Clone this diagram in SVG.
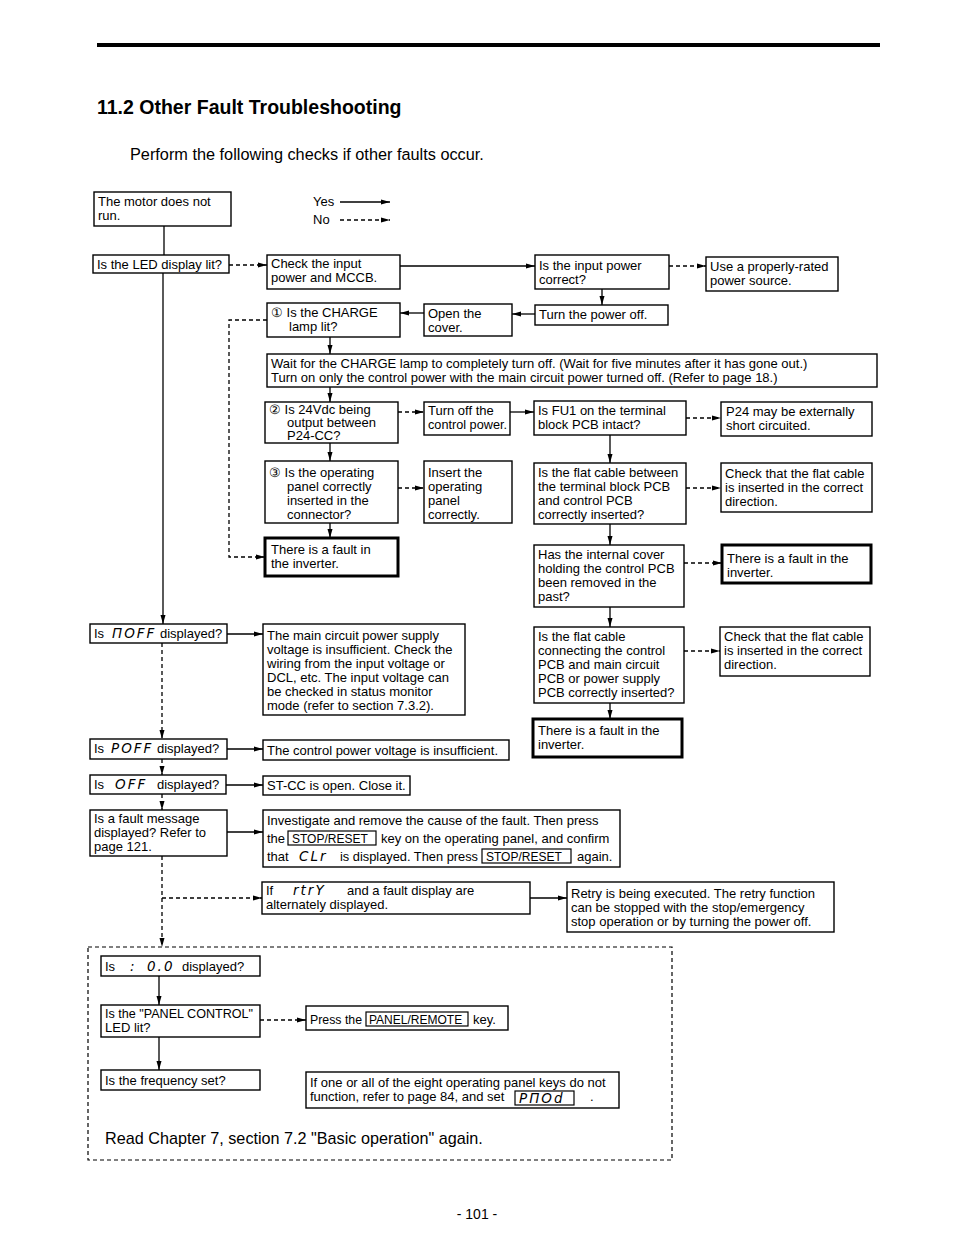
<svg xmlns="http://www.w3.org/2000/svg" width="954" height="1235" viewBox="0 0 954 1235">
<style>
.b{fill:#fff;stroke:#000;stroke-width:1.4}
.k{fill:#fff;stroke:#000;stroke-width:3}
.t{font-family:"Liberation Sans",Arial,sans-serif;font-size:13px;fill:#000}
.s{font-family:"DejaVu Sans",sans-serif;font-style:italic;font-size:13.5px;letter-spacing:2px}
.c{fill:none;stroke:#000;stroke-width:1.3}
.d{fill:none;stroke:#000;stroke-width:1.3;stroke-dasharray:4 3}
.key{fill:none;stroke:#000;stroke-width:1.2}
.kt{font-family:"Liberation Sans",Arial,sans-serif;font-size:12px;fill:#000}
</style>
<defs>
<marker id="a" markerWidth="9" markerHeight="6" refX="9" refY="3" orient="auto" markerUnits="userSpaceOnUse">
<path d="M0,0.5 L9,3 L0,5.5 Z" fill="#000"/>
</marker>
</defs>
<rect width="954" height="1235" fill="#fff"/>
<line x1="97" y1="45" x2="880" y2="45" stroke="#000" stroke-width="4"/>
<text x="97" y="114" font-family="Liberation Sans,Arial,sans-serif" font-weight="bold" font-size="19.5">11.2  Other Fault Troubleshooting</text>
<text x="130" y="160" font-family="Liberation Sans,Arial,sans-serif" font-size="16.3">Perform the following checks if other faults occur.</text>

<g id="legend">
<text class="t" x="313" y="206">Yes</text>
<text class="t" x="313" y="224">No</text>
</g>

<g id="connectors">
<line class="c" x1="340" y1="202" x2="390" y2="202" marker-end="url(#a)"/>
<line class="d" x1="340" y1="220" x2="390" y2="220" marker-end="url(#a)"/>
<line class="c" x1="164" y1="226" x2="164" y2="255"/>
<line class="d" x1="229" y1="265" x2="267" y2="265" marker-end="url(#a)"/>
<line class="c" x1="400" y1="266" x2="535" y2="266" marker-end="url(#a)"/>
<line class="d" x1="669" y1="266" x2="706" y2="266" marker-end="url(#a)"/>
<line class="c" x1="602" y1="289" x2="602" y2="305" marker-end="url(#a)"/>
<line class="c" x1="535" y1="314" x2="512" y2="314" marker-end="url(#a)"/>
<line class="c" x1="424" y1="313" x2="400" y2="313" marker-end="url(#a)"/>
<path class="d" d="M267,320 H229 V557 H265" marker-end="url(#a)"/>
<line class="c" x1="330" y1="337" x2="330" y2="354" marker-end="url(#a)"/>
<line class="c" x1="330" y1="387" x2="330" y2="402" marker-end="url(#a)"/>
<line class="d" x1="398" y1="412" x2="424" y2="412" marker-end="url(#a)"/>
<line class="c" x1="510" y1="412" x2="534" y2="412" marker-end="url(#a)"/>
<line class="d" x1="686" y1="418" x2="721" y2="418" marker-end="url(#a)"/>
<line class="c" x1="330" y1="443" x2="330" y2="461" marker-end="url(#a)"/>
<line class="d" x1="398" y1="488" x2="424" y2="488" marker-end="url(#a)"/>
<line class="c" x1="330" y1="523" x2="330" y2="538" marker-end="url(#a)"/>
<line class="c" x1="610" y1="435" x2="610" y2="463" marker-end="url(#a)"/>
<line class="d" x1="686" y1="488" x2="721" y2="488" marker-end="url(#a)"/>
<line class="c" x1="610" y1="524" x2="610" y2="545" marker-end="url(#a)"/>
<line class="d" x1="684" y1="563" x2="722" y2="563" marker-end="url(#a)"/>
<line class="c" x1="610" y1="607" x2="610" y2="627" marker-end="url(#a)"/>
<line class="d" x1="684" y1="651" x2="720" y2="651" marker-end="url(#a)"/>
<line class="c" x1="610" y1="703" x2="610" y2="719" marker-end="url(#a)"/>
<line class="c" x1="163" y1="273" x2="163" y2="624" marker-end="url(#a)"/>
<line class="c" x1="227" y1="634" x2="263" y2="634" marker-end="url(#a)"/>
<line class="d" x1="162" y1="643" x2="162" y2="739" marker-end="url(#a)"/>
<line class="c" x1="227" y1="749" x2="263" y2="749" marker-end="url(#a)"/>
<line class="d" x1="162" y1="759" x2="162" y2="775" marker-end="url(#a)"/>
<line class="c" x1="226" y1="785" x2="263" y2="785" marker-end="url(#a)"/>
<line class="d" x1="162" y1="794" x2="162" y2="810" marker-end="url(#a)"/>
<line class="c" x1="227" y1="832" x2="263" y2="832" marker-end="url(#a)"/>
<line class="d" x1="162" y1="856" x2="162" y2="947" marker-end="url(#a)"/>
<line class="d" x1="162" y1="898" x2="262" y2="898" marker-end="url(#a)"/>
<line class="c" x1="530" y1="898" x2="567" y2="898" marker-end="url(#a)"/>
<line class="c" x1="159" y1="976" x2="159" y2="1005" marker-end="url(#a)"/>
<line class="d" x1="260" y1="1020" x2="306" y2="1020" marker-end="url(#a)"/>
<line class="c" x1="159" y1="1037" x2="159" y2="1070" marker-end="url(#a)"/>
</g>

<g id="motor"><rect class="b" x="94" y="192" width="137" height="34"/><text class="t" x="98" y="206">The motor does not</text><text class="t" x="98" y="220">run.</text></g>
<g id="led"><rect class="b" x="93" y="255" width="136" height="18"/><text class="t" x="97" y="269">Is the LED display lit?</text></g>
<g id="checkinput"><rect class="b" x="267" y="255" width="133" height="34"/><text class="t" x="271" y="268">Check the input</text><text class="t" x="271" y="282">power and MCCB.</text></g>
<g id="inputcorrect"><rect class="b" x="535" y="255" width="134" height="34"/><text class="t" x="539" y="270">Is the input power</text><text class="t" x="539" y="284">correct?</text></g>
<g id="userated"><rect class="b" x="706" y="257" width="132" height="34"/><text class="t" x="710" y="271">Use a properly-rated</text><text class="t" x="710" y="285">power source.</text></g>
<g id="poweroff"><rect class="b" x="535" y="305" width="133" height="20"/><text class="t" x="539" y="319">Turn the power off.</text></g>
<g id="opencover"><rect class="b" x="424" y="304" width="88" height="32"/><text class="t" x="428" y="318">Open the</text><text class="t" x="428" y="332">cover.</text></g>
<g id="charge"><rect class="b" x="267" y="303" width="133" height="34"/><text class="t" x="271" y="317">① Is the CHARGE</text><text class="t" x="289" y="331">lamp lit?</text></g>
<g id="wait"><rect class="b" x="267" y="354" width="610" height="33"/><text class="t" x="271" y="368">Wait for the CHARGE lamp to completely turn off. (Wait for five minutes after it has gone out.)</text><text class="t" x="271" y="382">Turn on only the control power with the main circuit power turned off. (Refer to page 18.)</text></g>
<g id="v24"><rect class="b" x="265" y="402" width="133" height="41"/><text class="t" x="269" y="414">② Is 24Vdc being</text><text class="t" x="287" y="427">output between</text><text class="t" x="287" y="440">P24-CC?</text></g>
<g id="turnoffctrl"><rect class="b" x="424" y="402" width="86" height="33"/><text class="t" x="428" y="415">Turn off the</text><text class="t" x="428" y="429" textLength="79" lengthAdjust="spacingAndGlyphs">control power.</text></g>
<g id="fu1"><rect class="b" x="534" y="401" width="152" height="34"/><text class="t" x="538" y="415">Is FU1 on the terminal</text><text class="t" x="538" y="429">block PCB intact?</text></g>
<g id="p24"><rect class="b" x="721" y="402" width="151" height="34"/><text class="t" x="726" y="416">P24 may be externally</text><text class="t" x="726" y="430">short circuited.</text></g>
<g id="panel"><rect class="b" x="265" y="461" width="133" height="62"/><text class="t" x="269" y="477">③ Is the operating</text><text class="t" x="287" y="491">panel correctly</text><text class="t" x="287" y="505">inserted in the</text><text class="t" x="287" y="519">connector?</text></g>
<g id="insert"><rect class="b" x="424" y="461" width="88" height="62"/><text class="t" x="428" y="477">Insert the</text><text class="t" x="428" y="491">operating</text><text class="t" x="428" y="505">panel</text><text class="t" x="428" y="519">correctly.</text></g>
<g id="fault1"><rect class="k" x="265" y="538" width="133" height="38"/><text class="t" x="271" y="554">There is a fault in</text><text class="t" x="271" y="568">the inverter.</text></g>
<g id="flat1"><rect class="b" x="534" y="463" width="152" height="61"/><text class="t" x="538" y="477">Is the flat cable between</text><text class="t" x="538" y="491">the terminal block PCB</text><text class="t" x="538" y="505">and control PCB</text><text class="t" x="538" y="519">correctly inserted?</text></g>
<g id="checkflat1"><rect class="b" x="721" y="463" width="151" height="49"/><text class="t" x="725" y="478">Check that the flat cable</text><text class="t" x="725" y="492">is inserted in the correct</text><text class="t" x="725" y="506">direction.</text></g>
<g id="cover"><rect class="b" x="534" y="545" width="150" height="62"/><text class="t" x="538" y="559">Has the internal cover</text><text class="t" x="538" y="573">holding the control PCB</text><text class="t" x="538" y="587">been removed in the</text><text class="t" x="538" y="601">past?</text></g>
<g id="fault2"><rect class="k" x="722" y="545" width="149" height="38"/><text class="t" x="727" y="563">There is a fault in the</text><text class="t" x="727" y="577">inverter.</text></g>
<g id="flat2"><rect class="b" x="534" y="627" width="150" height="76"/><text class="t" x="538" y="641">Is the flat cable</text><text class="t" x="538" y="655">connecting the control</text><text class="t" x="538" y="669">PCB and main circuit</text><text class="t" x="538" y="683">PCB or power supply</text><text class="t" x="538" y="697">PCB correctly inserted?</text></g>
<g id="checkflat2"><rect class="b" x="720" y="627" width="150" height="49"/><text class="t" x="724" y="641">Check that the flat cable</text><text class="t" x="724" y="655">is inserted in the correct</text><text class="t" x="724" y="669">direction.</text></g>
<g id="fault3"><rect class="k" x="533" y="719" width="149" height="38"/><text class="t" x="538" y="735">There is a fault in the</text><text class="t" x="538" y="749">inverter.</text></g>

<g id="moff"><rect class="b" x="90" y="624" width="137" height="19"/><text class="t" x="94" y="638">Is</text><text class="t s" x="112" y="638">ΠOFF</text><text class="t" x="160" y="638">displayed?</text></g>
<g id="maincircuit"><rect class="b" x="263" y="624" width="202" height="91"/><text class="t" x="267" y="640">The main circuit power supply</text><text class="t" x="267" y="654">voltage is insufficient. Check the</text><text class="t" x="267" y="668">wiring from the input voltage or</text><text class="t" x="267" y="682">DCL, etc. The input voltage can</text><text class="t" x="267" y="696">be checked in status monitor</text><text class="t" x="267" y="710">mode (refer to section 7.3.2).</text></g>
<g id="poff"><rect class="b" x="90" y="739" width="137" height="20"/><text class="t" x="94" y="753">Is</text><text class="t s" x="111" y="753">POFF</text><text class="t" x="157" y="753">displayed?</text></g>
<g id="ctrlvolt"><rect class="b" x="263" y="740" width="246" height="20"/><text class="t" x="267" y="755">The control power voltage is insufficient.</text></g>
<g id="off"><rect class="b" x="90" y="775" width="136" height="19"/><text class="t" x="94" y="789">Is</text><text class="t s" x="115" y="789">OFF</text><text class="t" x="157" y="789">displayed?</text></g>
<g id="stcc"><rect class="b" x="263" y="776" width="147" height="19"/><text class="t" x="267" y="790">ST-CC is open. Close it.</text></g>
<g id="faultmsg"><rect class="b" x="90" y="810" width="137" height="46"/><text class="t" x="94" y="823">Is a fault message</text><text class="t" x="94" y="837">displayed? Refer to</text><text class="t" x="94" y="851">page 121.</text></g>
<g id="investigate"><rect class="b" x="263" y="810" width="357" height="57"/>
<text class="t" x="267" y="825">Investigate and remove the cause of the fault. Then press</text>
<text class="t" x="267" y="843">the</text><rect class="key" x="288" y="831" width="88" height="14"/><text class="kt" x="292" y="842.5">STOP/RESET</text><text class="t" x="381" y="843">key on the operating panel, and confirm</text>
<text class="t" x="267" y="861">that</text><text class="t s" x="299" y="861">CLr</text><text class="t" x="340" y="861" textLength="138" lengthAdjust="spacingAndGlyphs">is displayed. Then press</text><rect class="key" x="482" y="849" width="89" height="14"/><text class="kt" x="486" y="860.5">STOP/RESET</text><text class="t" x="577" y="861">again.</text></g>
<g id="retrydisp"><rect class="b" x="262" y="882" width="268" height="32"/><text class="t" x="266" y="895">If</text><text class="t s" x="293" y="895">rtrY</text><text class="t" x="347" y="895">and a fault display are</text><text class="t" x="266" y="909">alternately displayed.</text></g>
<g id="retry"><rect class="b" x="567" y="882" width="267" height="50"/><text class="t" x="571" y="898">Retry is being executed. The retry function</text><text class="t" x="571" y="912">can be stopped with the stop/emergency</text><text class="t" x="571" y="926">stop operation or by turning the power off.</text></g>

<g id="enclosure"><rect x="88" y="947" width="584" height="213" fill="none" stroke="#000" stroke-width="1.2" stroke-dasharray="4 3"/></g>
<g id="zero"><rect class="b" x="101" y="956" width="159" height="20"/><text class="t" x="105" y="971">Is</text><text class="t s" x="130" y="971">:</text><text class="t s" x="147" y="971">0.0</text><text class="t" x="182" y="971">displayed?</text></g>
<g id="panelctrl"><rect class="b" x="101" y="1005" width="159" height="32"/><text class="t" x="105" y="1018" textLength="148" lengthAdjust="spacingAndGlyphs">Is the "PANEL CONTROL"</text><text class="t" x="105" y="1032">LED lit?</text></g>
<g id="press"><rect class="b" x="306" y="1006" width="202" height="24"/><text class="t" x="310" y="1024" textLength="52" lengthAdjust="spacingAndGlyphs">Press the</text><rect class="key" x="366" y="1012" width="102" height="14"/><text class="kt" x="369" y="1023.5">PANEL/REMOTE</text><text class="t" x="473" y="1024">key.</text></g>
<g id="freq"><rect class="b" x="101" y="1070" width="159" height="20"/><text class="t" x="105" y="1085">Is the frequency set?</text></g>
<g id="eightkeys"><rect class="b" x="306" y="1072" width="313" height="36"/><text class="t" x="310" y="1087">If one or all of the eight operating panel keys do not</text><text class="t" x="310" y="1101">function, refer to page 84, and set</text><rect class="key" x="515" y="1091" width="59" height="14"/><text class="t s" x="519" y="1103" font-size="12">PΠOd</text><text class="t" x="590" y="1101">.</text></g>
<g id="readagain"><text x="105" y="1144" font-family="Liberation Sans,Arial,sans-serif" font-size="16.2">Read Chapter 7, section 7.2 "Basic operation" again.</text></g>

<text x="477" y="1219" text-anchor="middle" font-family="Liberation Sans,Arial,sans-serif" font-size="14">- 101 -</text>
</svg>
